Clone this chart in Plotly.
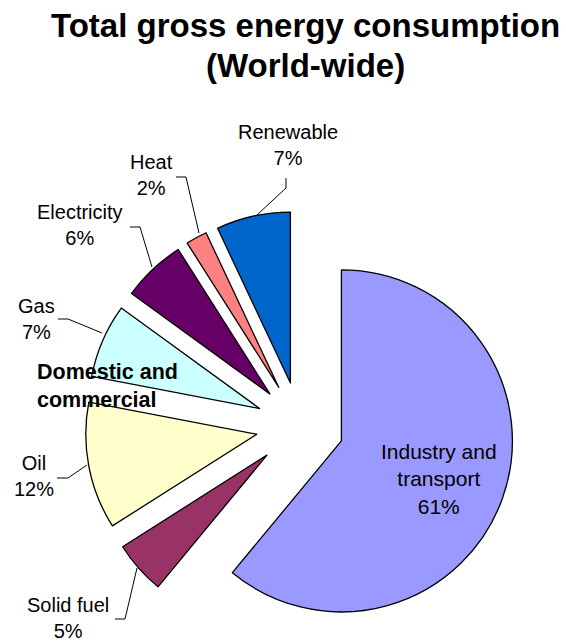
import plotly.graph_objects as go

# Shares of total gross energy consumption, clockwise from 12 o'clock
categories = ["Industry and transport", "Solid fuel", "Oil", "Gas",
              "Electricity", "Heat", "Renewable"]
shares = [61, 5, 12, 7, 6, 2, 7]
slice_colors = ["#9999FF", "#993366", "#FFFFCC", "#CCFFFF",
                "#660066", "#FF8080", "#0066CC"]
title_lines = ["Total gross energy consumption", "(World-wide)"]

W, H = 566, 644
FONT = "Liberation Sans, Arial, sans-serif"

# Pie geometry in pixels: centre, radius and explosion distance
CX, CY = 300, 426
R = 171
PULL = 44 / R
half = R * (1 + PULL)
dom_x = [(CX - half) / W, (CX + half) / W]
dom_y = [(H - CY - half) / H, (H - CY + half) / H]


def px(x, y):
    """Pixel position -> paper coordinates."""
    return x / W, 1 - y / H


# Label layout (pixel centres) and their elbow leader lines
label_text = {
    "Industry and transport": "Industry and<br>transport",
}
label_pos = {
    "Industry and transport": (439, 479),
    "Solid fuel": (68, 618),
    "Oil": (34, 476),
    "Gas": (36, 319),
    "Electricity": (80, 225),
    "Heat": (151, 175),
    "Renewable": (288, 145),
}
leaders = {
    "Renewable": [(286, 178), (286, 188), (257, 215)],
    "Heat": [(176, 177), (186, 177), (199, 233)],
    "Electricity": [(130, 227), (140, 227), (152, 267)],
    "Gas": [(58, 319), (68, 319), (102, 333)],
    "Oil": [(57, 478), (68, 478), (87, 465)],
    "Solid fuel": [(115, 619), (125, 619), (137, 568)],
}

fig = go.Figure(go.Pie(
    labels=categories,
    values=shares,
    sort=False,
    direction="clockwise",
    rotation=0,
    pull=[PULL] * len(shares),
    marker=dict(colors=slice_colors, line=dict(color="#000000", width=1.3)),
    textinfo="none",
    hoverinfo="label+percent",
    showlegend=False,
    domain=dict(x=dom_x, y=dom_y),
))

annotations = []
for name, val in zip(categories, shares):
    x, y = px(*label_pos[name])
    size = 21 if name == "Industry and transport" else 20
    annotations.append(dict(
        x=x, y=y, xref="paper", yref="paper",
        xanchor="center", yanchor="middle", align="center",
        text=f"{label_text.get(name, name)}<br>{val}%",
        showarrow=False,
        font=dict(family=FONT, size=size, color="#000000"),
    ))

# Group caption for the household sectors
gx, gy = px(35, 386)
annotations.append(dict(
    x=gx, y=gy, xref="paper", yref="paper",
    xanchor="left", yanchor="middle", align="left",
    text="Domestic and<br>commercial",
    showarrow=False,
    font=dict(family=FONT, size=21.5, color="#000000", weight="bold"),
))

# Chart title, one annotation per line
for line, ypix in zip(title_lines, (25.5, 65.5)):
    tx, ty = px(305, ypix)
    annotations.append(dict(
        x=tx, y=ty, xref="paper", yref="paper",
        xanchor="center", yanchor="middle", align="center",
        text=line,
        showarrow=False,
        font=dict(family=FONT, size=33, color="#000000", weight="bold"),
    ))

shapes = []
for name, pts in leaders.items():
    coords = [px(*p) for p in pts]
    path = "M " + " L ".join(f"{a:.5f},{b:.5f}" for a, b in coords)
    shapes.append(dict(type="path", path=path, xref="paper", yref="paper",
                       line=dict(color="#000000", width=1), layer="above"))

fig.update_layout(
    width=W, height=H,
    margin=dict(l=0, r=0, t=0, b=0),
    paper_bgcolor="#FFFFFF",
    plot_bgcolor="#FFFFFF",
    annotations=annotations,
    shapes=shapes,
)

fig.write_html("out.html")
